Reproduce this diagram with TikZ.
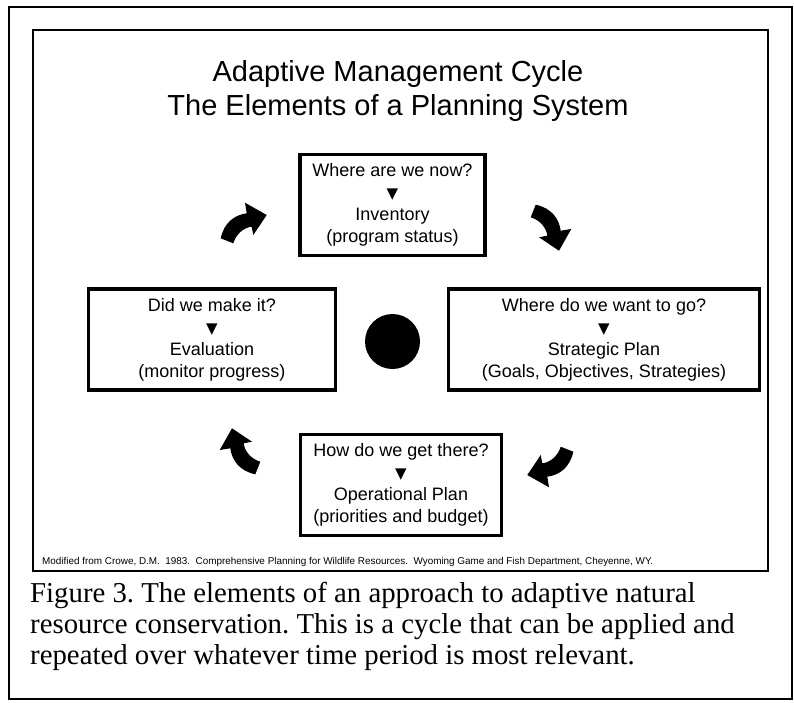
\documentclass[tikz,border=0pt]{standalone}
\usepackage{fontspec}
\setmainfont{Liberation Sans}
\newfontfamily\capfont{Liberation Serif}
\newfontfamily\symfont{DejaVu Sans}
\newcommand{\tri}{{\symfont\fontsize{15}{22}\selectfont ▼}}
\begin{document}
\frenchspacing
\begin{tikzpicture}[x=1pt,y=-1pt,
  stepbox/.style={draw, line width=3.5pt, align=center, inner sep=0pt,
    minimum height=101pt, font=\fontsize{18}{22}\selectfont},
  frame/.style={draw, line width=2pt},
  cyclearrow/.pic={\fill (-23.3,14.3) .. controls (-20,-1) and (-10,-9) .. (2.7,-10.7)
     -- (1,-21.3) -- (22.7,-9) -- (9.3,11) -- (7.7,2.7)
     .. controls (0,3.5) and (-8,10) .. (-10.7,19.3) -- cycle;}]
\useasboundingbox (0,0) rectangle (794,702);
\fill[white] (0,0) rectangle (794,702);
\draw[frame] (9,7) rectangle (792,699);
\draw[frame] (33,30) rectangle (768,571);

\node[font=\fontsize{29}{33}\selectfont] (title1) at (398,74) {Adaptive Management Cycle};
\node[font=\fontsize{29}{33}\selectfont] (title2) at (398,108) {The Elements of a Planning System};

\node[stepbox, minimum width=185pt] (inv) at (392.5,205)
  {Where are we now?\\\tri\\Inventory\\(program status)};
\node[stepbox, minimum width=311pt] (strat) at (604,339.5)
  {Where do we want to go?\\\tri\\Strategic Plan\\(Goals, Objectives, Strategies)};
\node[stepbox, minimum width=201pt] (oper) at (401,485)
  {How do we get there?\\\tri\\Operational Plan\\(priorities and budget)};
\node[stepbox, minimum width=247pt] (eval) at (212,339.5)
  {Did we make it?\\\tri\\Evaluation\\(monitor progress)};

\node[circle, fill=black, minimum size=55pt, inner sep=0pt] (hub) at (392.5,341.5) {};

\pic at (244,224) {cyclearrow};
\pic[rotate=-90] at (550,228) {cyclearrow};
\pic[rotate=180] at (550,466) {cyclearrow};
\pic[rotate=90] at (241,451) {cyclearrow};

\node[anchor=west, font=\fontsize{9.9}{11}\selectfont, inner sep=0pt] (credit) at (42,562)
  {Modified from Crowe, D.M.\ \ 1983.\ \ Comprehensive Planning for Wildlife Resources.\ \ Wyoming Game and Fish Department, Cheyenne, WY.};

\node[anchor=base west, align=left, inner sep=0pt, font=\capfont\fontsize{28.8}{31}\selectfont] (caption) at (30,664)
  {Figure 3. The elements of an approach to adaptive natural\\resource conservation. This is a cycle that can be applied and\\repeated over whatever time period is most relevant.};
\end{tikzpicture}
\end{document}
